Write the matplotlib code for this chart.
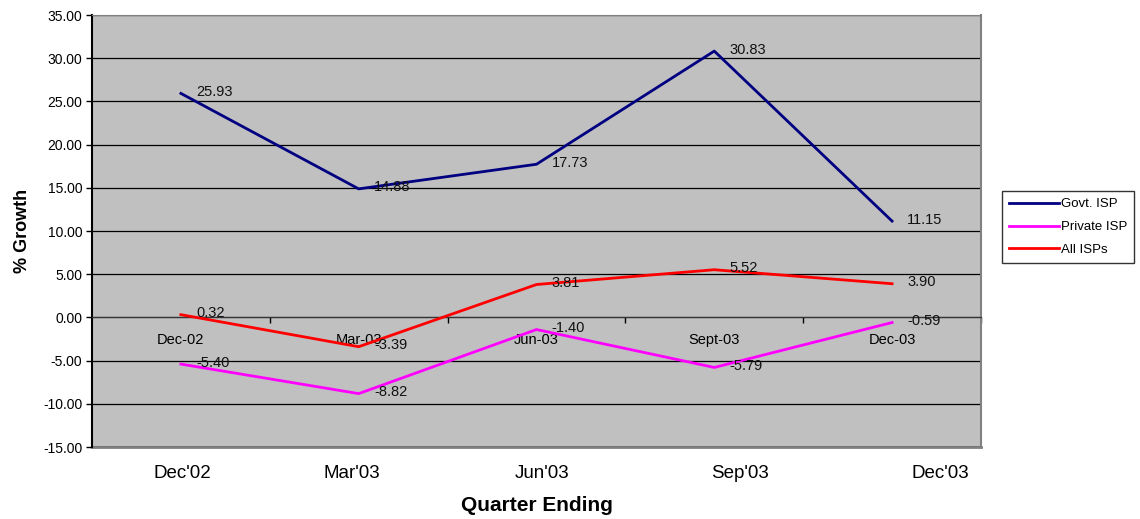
import numpy as np
import matplotlib
matplotlib.use('Agg')
import matplotlib.pyplot as plt
from matplotlib.ticker import FixedLocator, FormatStrFormatter

# quarter categories on the zero line and the row under the plot
quarters = ['Dec-02', 'Mar-03', 'Jun-03', 'Sept-03', 'Dec-03']
bottomLabels = ["Dec'02", "Mar'03", "Jun'03", "Sep'03", "Dec'03"]

# % growth per series
govtIsp = [25.93, 14.88, 17.73, 30.83, 11.15]
privateIsp = [-5.40, -8.82, -1.40, -5.79, -0.59]
allIsps = [0.32, -3.39, 3.81, 5.52, 3.90]

seriesNames = ['Govt. ISP', 'Private ISP', 'All ISPs']
seriesColors = ['#000080', '#FF00FF', '#FF0000']

plt.rcParams['font.family'] = ['Liberation Sans', 'DejaVu Sans']

fig = plt.figure(figsize=(11.4, 5.19), dpi=100)
fig.patch.set_facecolor('white')
ax = fig.add_axes([0.0807, 0.1387, 0.7798, 0.8323])
ax.set_facecolor('#C0C0C0')

x = np.arange(len(quarters))
for values, name, color in zip([govtIsp, privateIsp, allIsps], seriesNames, seriesColors):
    ax.plot(x, values, color=color, lw=2, label=name, zorder=3)
    for xi, v in zip(x, values):
        ax.annotate('%.2f' % v, (xi, v), xytext=(11, 1), textcoords='offset points',
                    ha='left', va='center', fontsize=10.5, color='#111111', zorder=4)

ax.set_xlim(-0.5, len(quarters) - 0.5)
ax.set_ylim(-15, 35)
ax.set_yticks(np.arange(-15, 36, 5))
ax.yaxis.set_major_formatter(FormatStrFormatter('%.2f'))
ax.tick_params(axis='y', direction='out', length=4, width=1, labelsize=10, pad=3)
ax.grid(axis='y', color='black', lw=0.9)
ax.set_axisbelow(True)

# category axis sits on the zero line, ticks between categories
ax.spines['bottom'].set_position(('data', 0))
ax.spines['bottom'].set_color('#333333')
ax.set_xticks(x)
ax.set_xticklabels(quarters, fontsize=10.5)
ax.xaxis.set_minor_locator(FixedLocator(np.arange(0.5, len(quarters), 1.0)))
ax.tick_params(axis='x', which='major', length=0, pad=11)
ax.tick_params(axis='x', which='minor', direction='out', length=4, width=1, color='black')

ax.spines['left'].set_linewidth(1.5)
ax.spines['top'].set_color('#808080')
ax.spines['right'].set_color('#808080')
ax.spines['right'].set_linewidth(1.5)

# second row of quarter labels below the plot area
bottomPos = [0.01, 0.96, 2.03, 3.145, 4.27]
sec = ax.secondary_xaxis('bottom')
sec.set_xticks(bottomPos)
sec.set_xticklabels(bottomLabels, fontsize=13.5)
sec.tick_params(length=0, pad=13)
sec.spines['bottom'].set_color('#808080')
sec.spines['bottom'].set_linewidth(2)
sec.set_xlabel('Quarter Ending', fontsize=15, fontweight='bold', labelpad=10)

ax.set_ylabel('% Growth', fontsize=13, fontweight='bold', labelpad=9)

leg = fig.legend(loc='upper left', bbox_to_anchor=(0.879, 0.632), fontsize=9.5,
                 frameon=True, fancybox=False, edgecolor='black', handlelength=3.8,
                 handletextpad=0.1, borderpad=0.55, labelspacing=0.8, borderaxespad=0)
leg.get_frame().set_linewidth(1)

fig.savefig('out.png', dpi=100, facecolor='white')
